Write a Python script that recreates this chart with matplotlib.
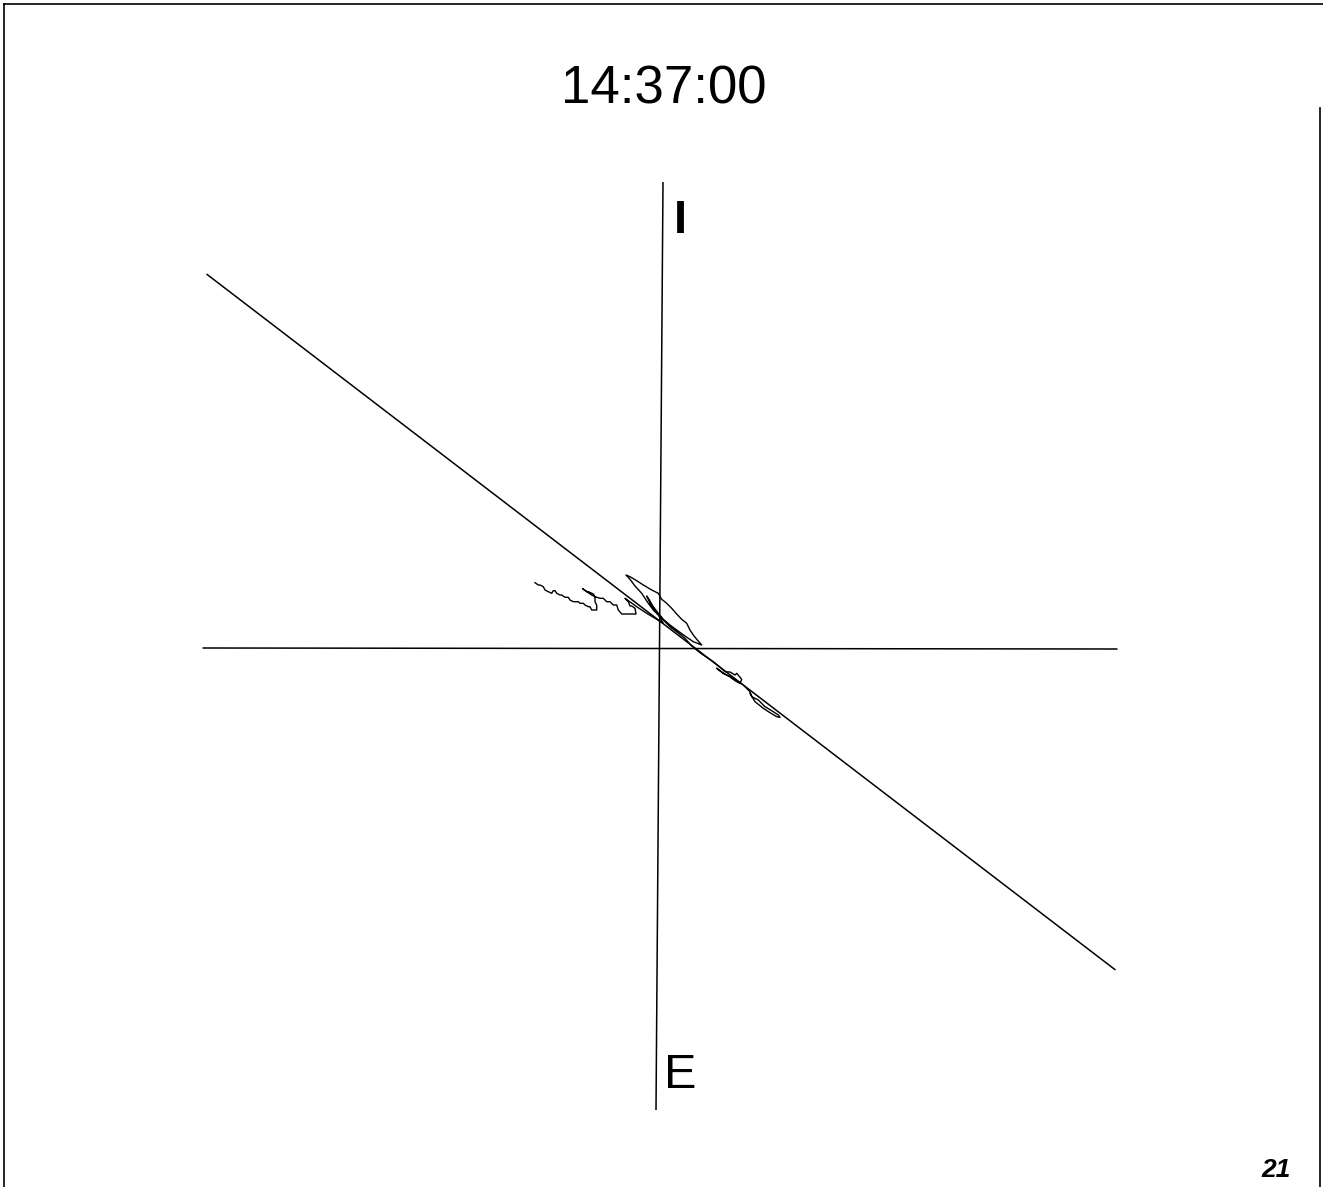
#!/usr/bin/env python3
"""
14:37:00 の軌跡プロット（スキャン画像の再現）
"""
import matplotlib
matplotlib.use("Agg")
import matplotlib.pyplot as plt
from matplotlib.lines import Line2D

plt.rcParams['font.family'] = ['Liberation Sans', 'DejaVu Sans']

# 表示する文字
title_text = "14:37:00"
top_label = "I"
bottom_label = "E"
page_number = "21"

# 軸（スキャンで少し傾いている）
h_axis_x = [-45.7, 45.8]
h_axis_y = [0.0, -0.1]
v_axis_x = [0.35, -0.35]
v_axis_y = [46.6, -46.2]

# 基準の斜線
ref_line_x = [-45.3, 45.6]
ref_line_y = [37.4, -32.2]

# 軌跡
trace_x = [
    -12.45, -12.12, -11.95, -11.62, -11.45, -11.12, -10.78, -10.62, -10.45, -10.28,
    -9.95, -9.78, -9.45, -9.12, -8.95, -8.62, -8.12, -7.95, -7.62, -7.45,
    -7.12, -6.95, -6.78, -6.28, -6.28, -6.45, -6.45, -6.78, -7.12, -7.68,
    -7.28, -7.12, -6.62, -6.45, -5.95, -5.62, -5.28, -4.95, -4.62, -4.28,
    -4.12, -3.78, -2.35, -2.45, -2.78, -2.95, -3.12, -3.45,
    -2.28, -1.28, -0.28, 0.38,
    -0.12, -0.62, -1.12, -1.78, -2.45, -2.95, -3.35,
    -2.95, -2.28, -1.62, -0.78, -0.12, 0.22, 0.72, 1.22, 1.72, 2.22, 2.72,
    3.05, 3.38, 3.78, 4.22,
    3.38, 2.55, 1.72, 1.05, 0.38, -0.12, -0.62, -1.12, -1.28,
    -0.78, -0.28, 0.38, 1.05, 1.72, 2.55, 3.22,
    4.05, 4.72, 5.38, 6.05, 6.55, 7.05, 7.55, 7.72, 8.22, 8.05,
    7.55, 7.05, 6.38, 5.72, 6.38, 7.05, 8.38, 9.05, 9.22, 9.88,
    10.55, 11.22, 11.88, 12.05, 11.72, 11.05, 10.38, 9.55, 9.05,
]
trace_y = [
    6.53, 6.30, 6.30, 6.13, 5.80, 5.63, 5.47, 5.73, 5.73, 5.47,
    5.30, 5.30, 5.07, 5.07, 4.80, 4.63, 4.63, 4.47, 4.47, 4.30,
    4.13, 4.13, 3.80, 3.80, 4.30, 4.63, 5.13, 5.30, 5.53, 5.93,
    5.63, 5.63, 5.40, 5.13, 4.97, 4.97, 4.63, 4.63, 4.30, 4.30,
    3.80, 3.40, 3.40, 3.97, 4.20, 4.20, 4.63, 4.97,
    4.13, 3.47, 2.87, 2.47,
    3.30, 3.80, 4.47, 5.47, 6.20, 6.87, 7.30,
    7.13, 6.73, 6.30, 5.80, 5.47, 4.87, 4.47, 3.97, 3.40, 2.87, 2.47,
    1.80, 1.30, 0.80, 0.30,
    0.63, 1.20, 1.80, 2.30, 2.87, 3.47, 4.13, 4.97, 5.20,
    4.13, 3.53, 2.80, 2.13, 1.63, 0.97, 0.20,
    -0.47, -0.93, -1.37, -1.93, -2.37, -2.40, -2.70, -2.53, -3.13, -3.53,
    -3.27, -2.87, -2.53, -2.03, -2.53, -2.87, -3.70, -4.37, -4.87, -5.20,
    -5.87, -6.27, -6.70, -6.93, -6.87, -6.47, -6.03, -5.37, -4.53,
]

fig = plt.figure(figsize=(13.23, 11.87), dpi=100)
ax = fig.add_axes([0, 0, 1, 1])
ax.set_xlim(-65.95, 66.35)
ax.set_ylim(-53.9, 64.8)
ax.axis('off')

line_kw = dict(color='black', linewidth=1.1, solid_capstyle='butt')
ax.plot(h_axis_x, h_axis_y, **line_kw)
ax.plot(v_axis_x, v_axis_y, **line_kw)
ax.plot(ref_line_x, ref_line_y, **line_kw)
ax.plot(trace_x, trace_y, color='black', linewidth=1.0)

# ラベル
ax.text(0.45, 54.5, title_text, fontsize=38, ha='center', va='baseline')
ax.text(2.05, 41.5, top_label, fontsize=34, fontweight='bold',
        ha='center', va='baseline')
ax.text(0.45, -44.0, bottom_label, fontsize=35, ha='left', va='baseline')
ax.text(61.65, -52.9, page_number, fontsize=19, fontweight='bold',
        fontstyle='italic', ha='center', va='baseline')

# ページの枠線
W, H = 1323.0, 1187.0
border_kw = dict(color='black', linewidth=1.2, transform=fig.transFigure)
fig.add_artist(Line2D([4 / W, 4 / W], [0, 1 - 4 / H], **border_kw))
fig.add_artist(Line2D([4 / W, 1], [1 - 4 / H, 1 - 4 / H], **border_kw))
fig.add_artist(Line2D([1320 / W, 1320 / W], [0, 1 - 108 / H], **border_kw))

fig.savefig("out.png", dpi=100, facecolor='white')
plt.close(fig)
